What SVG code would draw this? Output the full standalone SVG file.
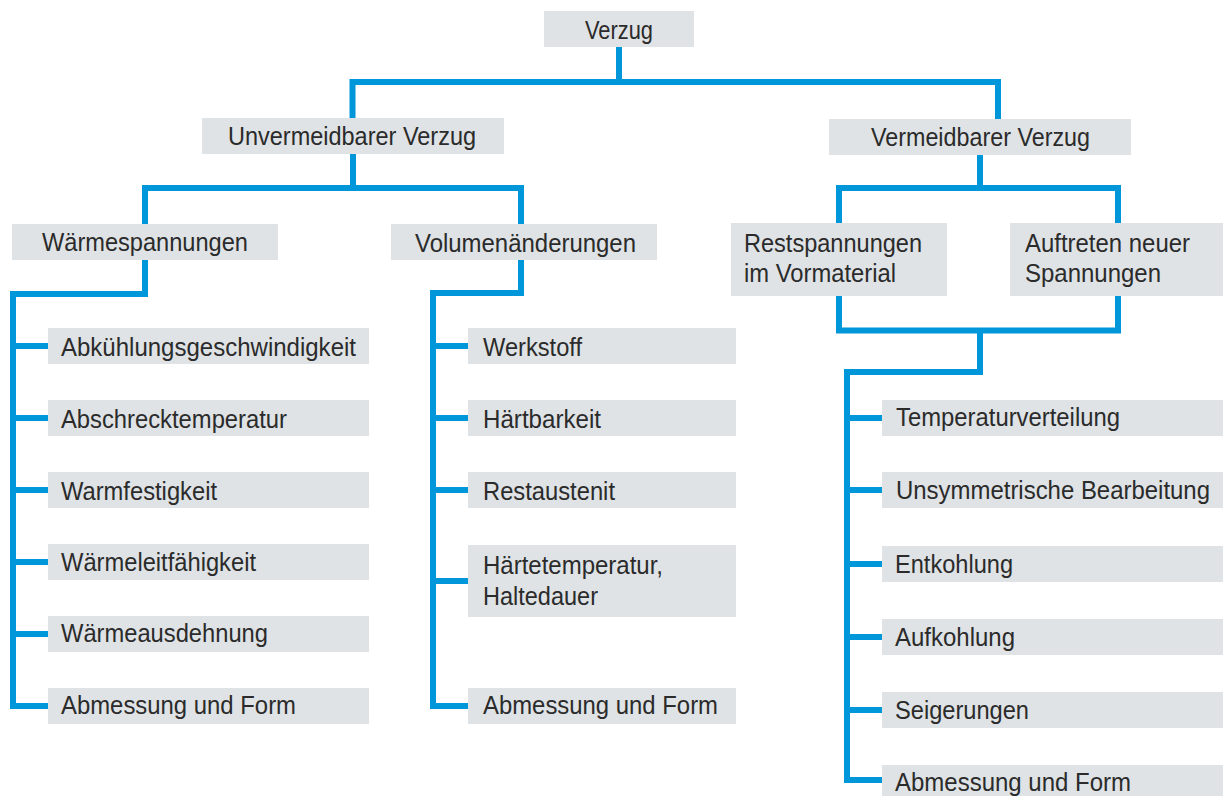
<svg xmlns="http://www.w3.org/2000/svg" width="1223" height="796" viewBox="0 0 1223 796">
<style>
.box{fill:#dfe3e6}
.t{font-family:"Liberation Sans",Arial,sans-serif;font-size:25px;fill:#2b2b2b}
.m{text-anchor:middle}
.c{fill:none;stroke:#0096da;stroke-width:6;stroke-linejoin:miter;stroke-linecap:butt}
</style>
<rect width="1223" height="796" fill="#ffffff"/>
<g id="connectors">
<path class="c" d="M352.5,118 V82 H998 V119 M619,47 V82"/>
<path class="c" d="M145,224 V188 H521 V224 M353,154 V188"/>
<path class="c" d="M145,260 V294 H13 V706 H48 M13,346 H48 M13,418 H48 M13,490 H48 M13,562 H48 M13,634 H48"/>
<path class="c" d="M521,260 V293 H433 V706 H468 M433,346 H468 M433,418 H468 M433,490 H468 M433,581 H468"/>
<path class="c" d="M839,223 V188 H1118 V223 M980,155 V188"/>
<path class="c" d="M839,296 V330.5 H1118 V296 M980,330.5 V372 H847 V780 H882 M847,418 H882 M847,490 H882 M847,564 H882 M847,637 H882 M847,710 H882"/>
</g>
<g id="n-verzug"><rect class="box" x="544" y="11" width="150" height="36"/><text class="t m" x="619" y="39" textLength="68" lengthAdjust="spacingAndGlyphs">Verzug</text></g>
<g id="n-unvermeidbar"><rect class="box" x="202" y="118" width="302" height="36"/><text class="t m" x="352" y="145" textLength="248" lengthAdjust="spacingAndGlyphs">Unvermeidbarer Verzug</text></g>
<g id="n-vermeidbar"><rect class="box" x="829" y="119" width="302" height="36"/><text class="t m" x="980.5" y="146" textLength="219" lengthAdjust="spacingAndGlyphs">Vermeidbarer Verzug</text></g>
<g id="n-waermespannungen"><rect class="box" x="12" y="224" width="266" height="36"/><text class="t m" x="145" y="251" textLength="206" lengthAdjust="spacingAndGlyphs">Wärmespannungen</text></g>
<g id="n-volumen"><rect class="box" x="391" y="224" width="266" height="36"/><text class="t m" x="525.5" y="252" textLength="221" lengthAdjust="spacingAndGlyphs">Volumenänderungen</text></g>
<g id="n-rest"><rect class="box" x="731" y="223" width="216" height="73"/><text class="t" x="744" y="252" textLength="178" lengthAdjust="spacingAndGlyphs">Restspannungen</text><text class="t" x="744" y="282" textLength="152" lengthAdjust="spacingAndGlyphs">im Vormaterial</text></g>
<g id="n-auftreten"><rect class="box" x="1010" y="223" width="213" height="73"/><text class="t" x="1025" y="252" textLength="165" lengthAdjust="spacingAndGlyphs">Auftreten neuer</text><text class="t" x="1025" y="282" textLength="136" lengthAdjust="spacingAndGlyphs">Spannungen</text></g>
<g id="l1"><rect class="box" x="48" y="328" width="321" height="36"/><text class="t" x="61" y="356" textLength="295" lengthAdjust="spacingAndGlyphs">Abkühlungsgeschwindigkeit</text></g>
<g id="l2"><rect class="box" x="48" y="400" width="321" height="36"/><text class="t" x="61" y="428" textLength="226" lengthAdjust="spacingAndGlyphs">Abschrecktemperatur</text></g>
<g id="l3"><rect class="box" x="48" y="472" width="321" height="36"/><text class="t" x="61" y="499.5" textLength="156" lengthAdjust="spacingAndGlyphs">Warmfestigkeit</text></g>
<g id="l4"><rect class="box" x="48" y="544" width="321" height="36"/><text class="t" x="61" y="571" textLength="195" lengthAdjust="spacingAndGlyphs">Wärmeleitfähigkeit</text></g>
<g id="l5"><rect class="box" x="48" y="616" width="321" height="36"/><text class="t" x="61" y="642" textLength="207" lengthAdjust="spacingAndGlyphs">Wärmeausdehnung</text></g>
<g id="l6"><rect class="box" x="48" y="688" width="321" height="36"/><text class="t" x="61" y="714" textLength="235" lengthAdjust="spacingAndGlyphs">Abmessung und Form</text></g>
<g id="m1"><rect class="box" x="468" y="328" width="268" height="36"/><text class="t" x="483" y="356" textLength="99" lengthAdjust="spacingAndGlyphs">Werkstoff</text></g>
<g id="m2"><rect class="box" x="468" y="400" width="268" height="36"/><text class="t" x="483" y="428" textLength="118" lengthAdjust="spacingAndGlyphs">Härtbarkeit</text></g>
<g id="m3"><rect class="box" x="468" y="472" width="268" height="36"/><text class="t" x="483" y="500" textLength="132" lengthAdjust="spacingAndGlyphs">Restaustenit</text></g>
<g id="m4"><rect class="box" x="468" y="545" width="268" height="72"/><text class="t" x="483" y="574" textLength="180" lengthAdjust="spacingAndGlyphs">Härtetemperatur,</text><text class="t" x="483" y="605" textLength="115" lengthAdjust="spacingAndGlyphs">Haltedauer</text></g>
<g id="m5"><rect class="box" x="468" y="688" width="268" height="36"/><text class="t" x="483" y="714" textLength="235" lengthAdjust="spacingAndGlyphs">Abmessung und Form</text></g>
<g id="r1"><rect class="box" x="882" y="400" width="341" height="36"/><text class="t" x="896" y="426" textLength="224" lengthAdjust="spacingAndGlyphs">Temperaturverteilung</text></g>
<g id="r2"><rect class="box" x="882" y="472" width="341" height="36"/><text class="t" x="896" y="498.5" textLength="314" lengthAdjust="spacingAndGlyphs">Unsymmetrische Bearbeitung</text></g>
<g id="r3"><rect class="box" x="882" y="546" width="341" height="36"/><text class="t" x="895" y="572.5" textLength="118" lengthAdjust="spacingAndGlyphs">Entkohlung</text></g>
<g id="r4"><rect class="box" x="882" y="619" width="341" height="36"/><text class="t" x="895" y="645.5" textLength="120" lengthAdjust="spacingAndGlyphs">Aufkohlung</text></g>
<g id="r5"><rect class="box" x="882" y="692" width="341" height="36"/><text class="t" x="895" y="719" textLength="134" lengthAdjust="spacingAndGlyphs">Seigerungen</text></g>
<g id="r6"><rect class="box" x="882" y="765" width="341" height="36"/><text class="t" x="895" y="791" textLength="236" lengthAdjust="spacingAndGlyphs">Abmessung und Form</text></g>
</svg>
